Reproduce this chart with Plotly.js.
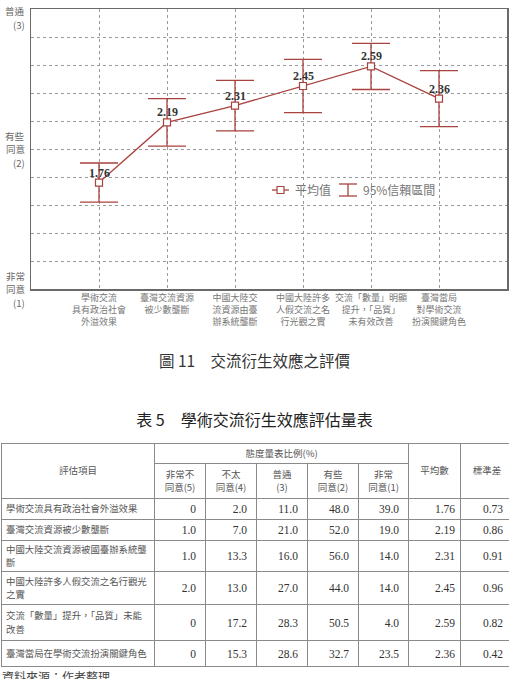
<!DOCTYPE html>
<html>
<head>
<meta charset="utf-8">
<script src="https://cdn.plot.ly/plotly-3.0.1.min.js"></script>
<style>
  html, body { margin: 0; padding: 0; background: #fff; width: 509px; height: 679px; overflow: hidden; }
  #chart { position: absolute; left: 0; top: 0; width: 509px; height: 335px; }
  .cap { position: absolute; left: 0; width: 509px; text-align: center; font-family: "Noto Sans CJK TC", sans-serif; color: #333; white-space: pre; }
  #tbl { position: absolute; left: 1px; top: 443px; border-collapse: collapse; table-layout: fixed; width: 512px; }
  #tbl td { border: 1px solid #8a8a8a; padding: 0; overflow: hidden; }
  #tbl .hd { font-family: "Noto Sans CJK TC", sans-serif; font-size: 9.5px; color: #555; text-align: center; line-height: 13.5px; }
  #tbl .item { font-family: "Noto Sans CJK TC", sans-serif; font-size: 9.4px; color: #555; text-align: left; line-height: 13.5px; padding-left: 4px; }
  #tbl .num { font-family: "Liberation Serif", serif; font-size: 11.5px; color: #333; text-align: right; padding-right: 9px; }
  #src { position: absolute; left: 2px; top: 670px; font-family: "Noto Sans CJK TC", sans-serif; font-size: 12px; color: #444; line-height: 14px; }
</style>
</head>
<body>
<div id="chart"></div>
<div class="cap" id="figcap" style="top:349px;font-size:15.5px;">圖 11　交流衍生效應之評價</div>
<div class="cap" id="tabcap" style="top:407px;font-size:16px;color:#222;">表 5　學術交流衍生效應評估量表</div>
<table id="tbl"></table>
<div id="src">資料來源：作者整理</div>
<script>
// ---- data ----
const categories = [
  "學術交流<br>具有政治社會<br>外溢效果",
  "臺灣交流資源<br>被少數壟斷",
  "中國大陸交<br>流資源由臺<br>辦系統壟斷",
  "中國大陸許多<br>人假交流之名<br>行光觀之實",
  "交流「數量」明顯<br>提升，「品質」<br>未有效改善",
  "臺灣當局<br>對學術交流<br>扮演關鍵角色"
];
const means = [1.76, 2.19, 2.31, 2.45, 2.59, 2.36];
const ci95 = [0.14, 0.17, 0.18, 0.19, 0.165, 0.20];
const yTickVals = [1, 2, 3];
const yTickText = [["非常", "同意", "(1)"], ["有些", "同意", "(2)"], ["普通", "(3)"]];
const legendNames = ["平均值", "95%信賴區間"];

const tableItems = [
  "學術交流具有政治社會外溢效果",
  "臺灣交流資源被少數壟斷",
  "中國大陸交流資源被國臺辦系統壟<br>斷",
  "中國大陸許多人假交流之名行觀光<br>之實",
  "交流「數量」提升，「品質」未能<br>改善",
  "臺灣當局在學術交流扮演關鍵角色"
];
const stronglyDisagree = [0, 1.0, 1.0, 2.0, 0, 0];
const notAgree = [2.0, 7.0, 13.3, 13.0, 17.2, 15.3];
const neutral = [11.0, 21.0, 16.0, 27.0, 28.3, 28.6];
const somewhatAgree = [48.0, 52.0, 56.0, 44.0, 50.5, 32.7];
const stronglyAgree = [39.0, 19.0, 14.0, 14.0, 4.0, 23.5];
const stdDev = [0.73, 0.86, 0.91, 0.96, 0.82, 0.42];
const scaleHeaders = ["非常不<br>同意(5)", "不太<br>同意(4)", "普通<br>(3)", "有些<br>同意(2)", "非常<br>同意(1)"];

// ---- chart ----
const RED = "#a8433e";
const W = 509, H = 335, ML = 31, MR = 2, MT = 9, MB = 46;
const PW = W - ML - MR, PH = H - MT - MB;
const px = x => (x - ML) / PW;
const py = y => (MT + PH - y) / PH;

const xIdx = categories.map((_, i) => i);

const trace = {
  x: xIdx, y: means, type: "scatter", mode: "lines+markers",
  line: { color: RED, width: 1.3 },
  marker: { symbol: "square", size: 7, color: "#fff", line: { color: RED, width: 1.2 } },
  error_y: { type: "data", array: ci95, visible: true, color: RED, thickness: 1.3, width: 19 },
  cliponaxis: false, hoverinfo: "skip", showlegend: false
};

const annotations = [];
means.forEach((m, i) => {
  annotations.push({ x: i, y: m, xref: "x", yref: "y", text: "<b>" + m.toFixed(2) + "</b>",
    showarrow: false, yshift: 10, xanchor: "center", yanchor: "middle",
    font: { family: "Liberation Serif, serif", size: 12, color: "#333" } });
});
const LS = 13.5;
yTickVals.forEach((v, i) => {
  const lines = yTickText[i];
  // top label sits just below the frame; others are centred on their value
  const firstShift = v === 3 ? -2 : ((lines.length - 1) / 2) * LS;
  lines.forEach((t, k) => {
    annotations.push({ x: 0, y: v, xref: "paper", yref: "y", text: t, showarrow: false,
      xanchor: "right", yanchor: "middle", align: "right", xshift: -4, yshift: firstShift - k * LS,
      font: { family: "Noto Sans CJK TC, sans-serif", size: 9.5, color: "#666" } });
  });
});
// legend text
annotations.push({ x: px(293), y: py(190), xref: "paper", yref: "paper", text: legendNames[0], showarrow: false,
  xanchor: "left", yanchor: "middle", font: { family: "Noto Sans CJK TC, sans-serif", size: 12, color: "#777" } });
annotations.push({ x: px(361), y: py(190), xref: "paper", yref: "paper", text: legendNames[1], showarrow: false,
  xanchor: "left", yanchor: "middle", font: { family: "Noto Sans CJK TC, sans-serif", size: 12, color: "#777" } });

const shapes = [
  { type: "line", xref: "paper", yref: "paper", x0: px(272), x1: px(289), y0: py(190), y1: py(190), line: { color: RED, width: 1.3 } },
  { type: "rect", xref: "paper", yref: "paper", x0: px(277), x1: px(284), y0: py(186.5), y1: py(193.5), fillcolor: "#fff", line: { color: RED, width: 1.2 } },
  { type: "line", xref: "paper", yref: "paper", x0: px(339), x1: px(357), y0: py(184), y1: py(184), line: { color: RED, width: 1.3 } },
  { type: "line", xref: "paper", yref: "paper", x0: px(339), x1: px(357), y0: py(196), y1: py(196), line: { color: RED, width: 1.3 } },
  { type: "line", xref: "paper", yref: "paper", x0: px(348), x1: px(348), y0: py(184), y1: py(196), line: { color: RED, width: 1.3 } }
];

const layout = {
  width: W, height: H,
  margin: { l: ML, r: MR, t: MT, b: MB, pad: 0 },
  paper_bgcolor: "#fff", plot_bgcolor: "#fff",
  showlegend: false,
  xaxis: {
    type: "linear", range: [-1, 6], tickmode: "array", tickvals: xIdx, ticktext: categories,
    showgrid: true, gridcolor: "#9a9a9a", griddash: "dot", gridwidth: 1, zeroline: false,
    showline: true, mirror: true, linecolor: "#6a6a6a", linewidth: 1.5, ticks: "",
    tickfont: { family: "Noto Sans CJK TC, sans-serif", size: 9, color: "#777" }, fixedrange: true
  },
  yaxis: {
    range: [1, 3], tickmode: "linear", tick0: 1, dtick: 0.2, showticklabels: false,
    showgrid: true, gridcolor: "#9a9a9a", griddash: "dot", gridwidth: 1, zeroline: false,
    showline: true, mirror: true, linecolor: "#6a6a6a", linewidth: 1.5, ticks: "", fixedrange: true
  },
  annotations: annotations,
  shapes: shapes
};

Plotly.newPlot("chart", [trace], layout, { staticPlot: true, displayModeBar: false });

// ---- table ----
const fmtPct = v => (v === 0 ? "0" : v.toFixed(1));
const rowHeights = [21, 21, 31, 33, 36, 26];
let html = '<colgroup><col style="width:153px"><col style="width:51px"><col style="width:51px"><col style="width:51px"><col style="width:51px"><col style="width:50px"><col style="width:52px"><col style="width:53px"></colgroup>';
html += '<tr style="height:20px"><td class="hd" rowspan="2">評估項目</td><td class="hd" colspan="5">態度量表比例(%)</td><td class="hd" rowspan="2">平均數</td><td class="hd" rowspan="2">標準差</td></tr>';
html += '<tr style="height:35px">' + scaleHeaders.map(h => '<td class="hd">' + h + '</td>').join("") + '</tr>';
tableItems.forEach((item, i) => {
  html += '<tr style="height:' + rowHeights[i] + 'px"><td class="item">' + item + '</td>' +
    [stronglyDisagree[i], notAgree[i], neutral[i], somewhatAgree[i], stronglyAgree[i]].map(v => '<td class="num">' + fmtPct(v) + '</td>').join("") +
    '<td class="num" style="padding-right:5px">' + means[i].toFixed(2) + '</td>' +
    '<td class="num" style="padding-right:10px">' + stdDev[i].toFixed(2) + '</td></tr>';
});
document.getElementById("tbl").innerHTML = html;
</script>
</body>
</html>
